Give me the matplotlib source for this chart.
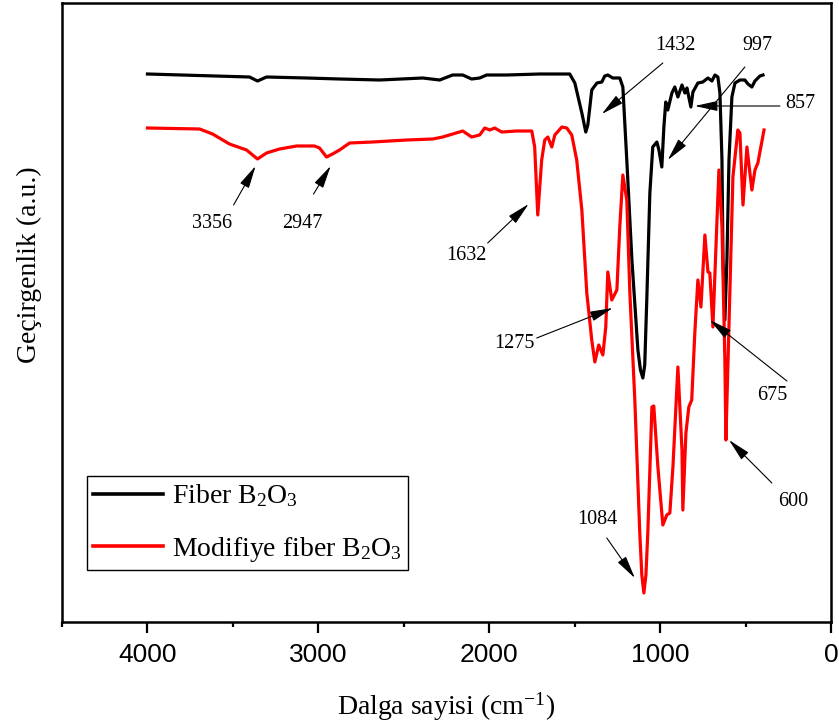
import matplotlib
matplotlib.use("Agg")
import matplotlib.pyplot as plt
from matplotlib.ticker import MultipleLocator

plt.rcParams["font.family"] = ["Liberation Serif", "DejaVu Serif"]
plt.rcParams["mathtext.fontset"] = "custom"
plt.rcParams["mathtext.rm"] = "Liberation Serif"
plt.rcParams["mathtext.it"] = "Liberation Serif:italic"
plt.rcParams["mathtext.bf"] = "Liberation Serif:bold"

# FTIR spectra: wavenumber (cm-1) and transmittance (a.u.)
fiber_wn = [4000, 3403, 3356, 3303, 3069, 2876, 2641, 2389, 2290, 2214, 2155,
            2103, 2056, 2015, 1898, 1704, 1529, 1499, 1458, 1435, 1423, 1400,
            1370, 1341, 1324, 1306, 1277, 1236, 1218, 1195, 1165, 1130, 1115,
            1101, 1090, 1078, 1060, 1043, 1019, 1007, 990, 978, 967, 955, 931,
            914, 896, 872, 855, 843, 820, 808, 779, 750, 720, 697, 679, 662,
            650, 638, 632, 621, 609, 597, 580, 562, 533, 504, 486, 463, 445,
            416, 398]
fiber_t = [548, 545, 541, 545, 544, 543, 542, 544, 542, 547, 547,
           543, 544, 547, 547, 548, 548, 539, 509, 490, 497, 532,
           539, 540, 546, 547, 544, 544, 535, 462, 362, 272, 252,
           244, 257, 322, 429, 475, 480, 472, 455, 495, 520, 512, 529,
           535, 525, 537, 529, 534, 515, 530, 539, 540, 544, 541, 547, 545,
           529, 462, 362, 302, 362, 462, 525, 539, 542, 542, 538, 535, 541,
           546, 547]

mod_wn = [4000, 3695, 3619, 3520, 3420, 3356, 3303, 3227, 3127, 3022, 2993,
          2952, 2917, 2876, 2817, 2682, 2483, 2331, 2272, 2155, 2103, 2056,
          2026, 1997, 1968, 1927, 1839, 1751, 1734, 1716, 1693, 1675, 1657,
          1634, 1616, 1575, 1546, 1517, 1488, 1458, 1429, 1400, 1382, 1359,
          1335, 1318, 1306, 1283, 1253, 1236, 1218, 1195, 1177, 1148, 1119,
          1107, 1095, 1083, 1072, 1048, 1037, 1013, 984, 961, 943, 925, 896,
          872, 867, 849, 832, 815, 797, 779, 761, 738, 720, 709, 691, 679,
          656, 638, 621, 615, 592, 574, 545, 533, 515, 492, 463, 445, 428,
          392]
mod_t = [494, 493, 488, 478, 472, 463, 469, 473, 476, 476, 474,
         465, 468, 472, 479, 480, 482, 483, 485, 491, 485, 487,
         494, 492, 494, 490, 491, 491, 475, 407, 462, 482, 485,
         475, 487, 495, 494, 487, 462, 412, 329, 282, 260, 277,
         267, 295, 350, 322, 332, 395, 447, 422, 329, 222, 89,
         47, 29, 47, 89, 215, 216, 155, 97, 107, 109, 155, 255,
         172, 112, 189, 215, 222, 289, 342, 315, 387, 350, 349, 295, 349,
         452, 395, 262, 182, 329, 445, 492, 489, 417, 475, 432, 452, 459,
         492]

series_labels = [r"Fiber B$_2$O$_3$", r"Modifiye fiber B$_2$O$_3$"]
series_colors = ["#000000", "#ff0000"]

# Peak labels: text, text position, arrow start, arrow tip (data coordinates)
peak_labels = ["1432", "997", "857", "3356", "2947", "1632", "1275", "675", "600", "1084"]
peak_text_xy = [(908, 577), (433, 577), (182, 518), (3619, 399), (3092, 399),
                (2132, 366), (1851, 278), (346, 227), (223, 120), (1370, 103)]
peak_start_xy = [(984, 559), (504, 555), (299, 516), (3496, 417), (3028, 428),
                 (2009, 379), (1722, 284), (258, 241), (346, 139), (1312, 84)]
peak_tip_xy = [(1341, 508), (955, 462), (797, 516), (3367, 456), (2928, 456),
               (1769, 418), (1277, 314), (709, 302), (597, 182), (1148, 44)]

fig = plt.figure(figsize=(8.39, 7.25), dpi=100)
ax = fig.add_axes([62 / 839, 103 / 725, 769 / 839, 619 / 725])

ax.plot(fiber_wn, fiber_t, color=series_colors[0], lw=2.3, label=series_labels[0],
        solid_joinstyle="round")
ax.plot(mod_wn, mod_t, color=series_colors[1], lw=2.3, label=series_labels[1],
        solid_joinstyle="round")

for lab, txy, sxy, pxy in zip(peak_labels, peak_text_xy, peak_start_xy, peak_tip_xy):
    ax.text(txy[0], txy[1], lab, fontsize=14.5, ha="center", va="center")
    ax.annotate("", xy=pxy, xytext=sxy,
                arrowprops=dict(arrowstyle="-|>,head_length=1.0,head_width=0.22",
                                color="black", lw=0.8, mutation_scale=14,
                                shrinkA=0, shrinkB=0))

ax.set_xlim(4500, 0)
ax.set_ylim(0, 619)
ax.xaxis.set_major_locator(MultipleLocator(1000))
ax.xaxis.set_minor_locator(MultipleLocator(500))
ax.set_yticks([])
ax.tick_params(axis="x", which="major", direction="out", length=8, width=1.6,
               pad=7, labelsize=19, top=False)
ax.tick_params(axis="x", which="minor", direction="out", length=3.5, width=1.6,
               top=False)
for lbl in ax.get_xticklabels():
    lbl.set_fontfamily("Liberation Sans")
for sp in ax.spines.values():
    sp.set_linewidth(1.8)

fig.text(446 / 839, 1 - 715 / 725, r"Dalga sayisi (cm$^{-1}$)", fontsize=20,
         ha="center", va="baseline")
fig.text(29 / 839, 1 - 265 / 725, "Geçirgenlik (a.u.)", fontsize=20,
         rotation=90, ha="center", va="center")

leg = ax.legend(loc="lower left", bbox_to_anchor=(25 / 769, 52 / 619),
                borderaxespad=0, fontsize=20, frameon=True, fancybox=False,
                edgecolor="black", framealpha=1, handlelength=2.5,
                handletextpad=0.33, borderpad=0.22, labelspacing=0.92)
leg.get_frame().set_linewidth(1.0)
for line in leg.get_lines():
    line.set_linewidth(2.6)

fig.savefig("out.png", dpi=100)
